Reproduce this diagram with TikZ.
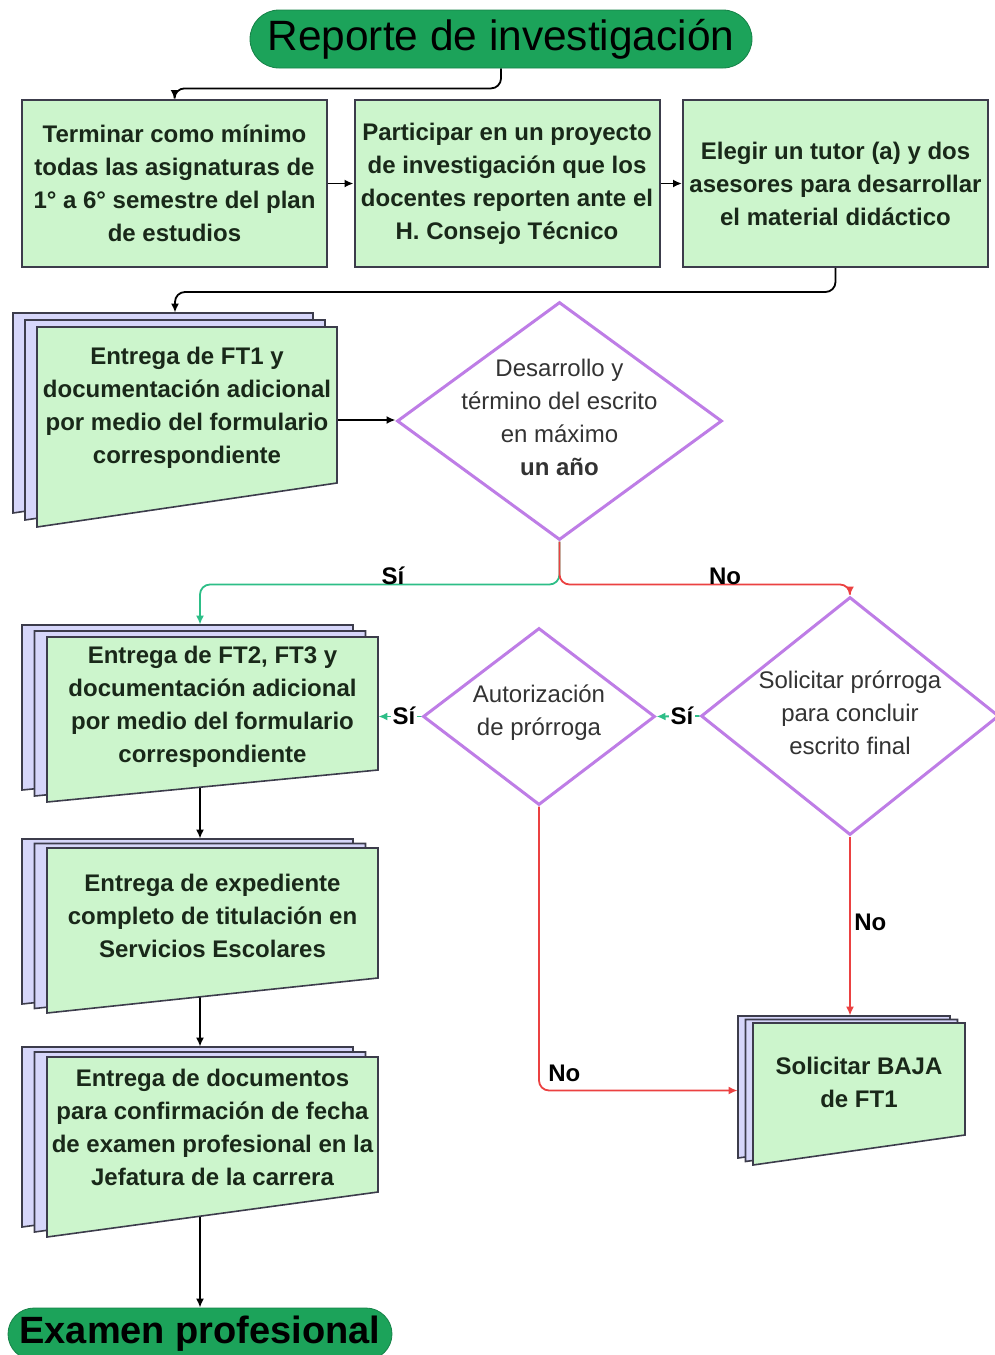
\documentclass[tikz,border=0pt]{standalone}
\usepackage{fontspec}
\setmainfont{Liberation Sans}
\usetikzlibrary{shapes.geometric,arrows.meta,fit,backgrounds}

\definecolor{verdeosc}{RGB}{28,163,90}
\definecolor{verdeclaro}{RGB}{204,245,204}
\definecolor{lila}{RGB}{214,214,250}
\definecolor{morado}{RGB}{190,125,230}
\definecolor{verdeflecha}{RGB}{45,190,135}
\definecolor{rojo}{RGB}{235,65,65}
\definecolor{tinta}{RGB}{25,40,25}
\definecolor{borde}{RGB}{60,60,75}

\tikzset{
  terminal/.style={draw=verdeosc!80!black, fill=verdeosc, inner sep=0pt, text=black},
  caja/.style={draw=borde, line width=1pt, fill=verdeclaro, minimum width=152.5pt,
    minimum height=83.5pt, inner sep=0pt, align=center,
    font=\bfseries\fontsize{12}{16.5}\selectfont, text=tinta},
  hoja/.style={draw=borde, line width=0.8pt, fill=lila},
  frente/.style={draw=borde, line width=0.8pt, fill=verdeclaro},
  texto/.style={align=center, font=\bfseries\fontsize{12}{16.5}\selectfont, text=tinta},
  decision/.style={diamond, draw=morado, line width=1.5pt, fill=white, inner sep=0pt},
  pregunta/.style={align=center, font=\fontsize{12}{16.5}\selectfont, text=black!80},
  flecha/.style={-{Latex[length=4.5pt,width=4pt]}, line width=0.9pt, rounded corners=5pt},
  etiqueta/.style={font=\bfseries\fontsize{12}{14}\selectfont, inner sep=1pt}
}

% #1 nombre, #2 x izq, #3 y sup, #4 x der, #5 y inf izq, #6 y inf der, #7 dx, #8 dy, #9 texto
\newcommand{\pila}[9]{%
  \foreach \k in {2,1}
    \draw[hoja] ({#2-\k*#7},{#3-\k*#8}) -- ({#4-\k*#7},{#3-\k*#8}) -- ({#4-\k*#7},{#6-\k*#8}) -- ({#2-\k*#7},{#5-\k*#8}) -- cycle;
  \draw[frente] (#2,#3) -- (#4,#3) -- (#4,#6) -- (#2,#5) -- cycle;
  \node[fit={({#2-2*#7},{#3-2*#8}) (#4,#5)}, inner sep=0pt] (#1) {};
  \node[texto] (#1t) at ({(#2+#4)/2},{(#3+#6)/2+3}) {#9};
}

\begin{document}
\begin{tikzpicture}[x=0.5pt,y=-0.5pt]
\useasboundingbox (0,0) rectangle (995,1355);

\node[terminal, rounded corners=14.5pt, minimum width=251pt, minimum height=29pt,
  font=\fontsize{21.2}{21}\selectfont] (inicio) at (501,39) {Reporte de investigación};

\node[caja] (b1) at (174.5,183.5) {Terminar como mínimo\\todas las asignaturas de\\1° a 6° semestre del plan\\de estudios};
\node[caja] (b2) at (507,183.5) {Participar en un proyecto\\de investigación que los\\docentes reporten ante el\\H. Consejo Técnico};
\node[caja] (b3) at (835.5,183.5) {Elegir un tutor (a) y dos\\asesores para desarrollar\\el material didáctico};

\pila{d1}{37}{327}{337}{527}{483}{12}{7}{Entrega de FT1 y\\documentación adicional\\por medio del formulario\\correspondiente}
\pila{d2}{47}{637}{378}{802}{770}{12.5}{6}{Entrega de FT2, FT3 y\\documentación adicional\\por medio del formulario\\correspondiente}
\pila{d3}{47}{848}{378}{1013}{978}{12.5}{4.5}{Entrega de expediente\\completo de titulación en\\Servicios Escolares}
\pila{d4}{47}{1057}{378}{1237}{1192}{12.5}{5}{Entrega de documentos\\para confirmación de fecha\\de examen profesional en la\\Jefatura de la carrera}
\pila{d5}{753}{1023}{965}{1165}{1135}{7.5}{3.5}{Solicitar BAJA\\de FT1}

\node[decision, minimum width=162.5pt, minimum height=119pt] (q1) at (559.5,421) {};
\node[pregunta] (q1t) at (559.5,417) {Desarrollo y\\término del escrito\\en máximo\\\textbf{un año}};
\node[decision, minimum width=149pt, minimum height=119pt] (q2) at (850,716) {};
\node[pregunta] (q2t) at (850,713) {Solicitar prórroga\\para concluir\\escrito final};
\node[decision, minimum width=116pt, minimum height=88.5pt] (q3) at (539,716.5) {};
\node[pregunta] (q3t) at (539,712.5) {Autorización\\de prórroga};

\node[terminal, rounded corners=13pt, minimum width=192pt, minimum height=26pt,
  font=\bfseries\fontsize{19}{19}\selectfont] (fin) at (200,1334) {Examen profesional};

\begin{scope}[on background layer]
\draw[flecha] (inicio.south) -- ++(0,20) -| (b1.north);
\draw[flecha] (b1) -- (b2);
\draw[flecha] (b2) -- (b3);
\draw[flecha] (b3.south) -- ++(0,24) -| (d1.north);
\draw[flecha] (d1.east) -- (d1.east -| q1.west);
\draw[flecha, verdeflecha] (q1.south) -- ++(0,43) -| (d2.north);
\draw[flecha, rojo] (q1.south) -- ++(0,43) -| (q2.north);
\draw[flecha, verdeflecha] (q2.west) -- (q3.east);
\draw[flecha, verdeflecha] (q3.west) -- (q3.west -| d2.east);
\draw[flecha, rojo] (q2.south) -- (q2.south |- d5.north);
\draw[flecha, rojo] (q3.south) |- (d5.west);
\draw[flecha] (d2.center) -- (d3.north);
\draw[flecha] (d3.center) -- (d4.north);
\draw[flecha] (d4.center) -- (fin.north);
\end{scope}

\node[etiqueta, anchor=base] (si1) at (393,584) {Sí};
\node[etiqueta, anchor=base] (no1) at (725,584) {No};
\node[etiqueta, fill=white] (si2) at (682,716) {Sí};
\node[etiqueta, fill=white] (si3) at (404,716) {Sí};
\node[etiqueta, anchor=west] (no2) at (852,922) {No};
\node[etiqueta, anchor=base west] (no3) at (546,1081) {No};

\end{tikzpicture}
\end{document}
